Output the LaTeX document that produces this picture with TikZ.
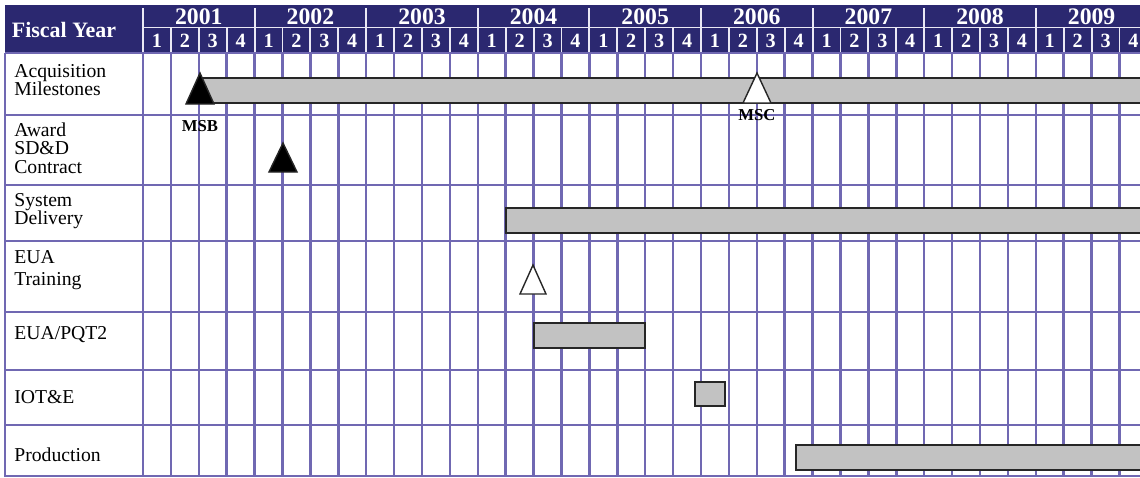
\documentclass[tikz,border=0pt]{standalone}
\usepackage{fontspec}
\setmainfont{Liberation Serif}
\definecolor{FYnavy}{HTML}{2B2870}
\definecolor{FYgrid}{HTML}{7068B2}
\definecolor{FYbar}{HTML}{C2C2C2}
\usetikzlibrary{positioning}

\begin{document}
\begin{tikzpicture}[x=0.02cm, y=-0.02cm,
   gridline/.style={FYgrid, line width=1.4pt},
   hdrline/.style={white!85!FYgrid, line width=1.1pt},
   taskbar/.style={fill=FYbar, draw=black!85, line width=0.8pt},
   mstone/.style={draw=black!85, line width=0.8pt, line join=miter},
   rowlabel/.style={anchor=west, align=left, inner sep=0pt,
      font=\fontsize{11.2}{10.5}\selectfont},
   hdrtext/.style={white, inner sep=0pt, font=\bfseries\fontsize{12.5}{14}\selectfont},
   yrtext/.style={white, inner sep=0pt, font=\bfseries\fontsize{13.5}{14}\selectfont},
   qtext/.style={white, inner sep=0pt, font=\bfseries\fontsize{11.5}{12}\selectfont},
   mlabel/.style={inner sep=0pt, font=\bfseries\fontsize{9.5}{10}\selectfont}]
   \def\qw{27.9}
   \useasboundingbox (0,0) rectangle (1140,477);
   \clip (0,0) rectangle (1140,477);
   % Header band
   \fill[FYnavy] (5,5) rectangle (1150,53);
   \node[hdrtext] (fiscal) at (64,30) {Fiscal Year};
   \draw[hdrline] (143,27.5) -- (1150,27.5);
   \foreach \k in {0,...,9}
      \draw[hdrline] ({143+4*\k*\qw},8) -- ({143+4*\k*\qw},53);
   \foreach \k in {1,...,36}
      \draw[hdrline] ({143+\k*\qw},28) -- ({143+\k*\qw},53);
   % Years and quarters
   \foreach \yr [count=\i from 0] in {2001,...,2009}
      \node[yrtext] (yr\yr) at ({143+(4*\i+2)*\qw},17) {\yr};
   \foreach \k in {0,...,35}{
      \pgfmathtruncatemacro{\q}{mod(\k,4)+1}
      \node[qtext] (q\k) at ({143+(\k+0.5)*\qw},41) {\q};
   }
   % Body grid
   \draw[gridline] (5,53) -- (5,477);
   \foreach \k in {0,...,36}
      \draw[gridline] ({143+\k*\qw},53) -- ({143+\k*\qw},477);
   \foreach \r in {53,115,185,241,312,370,425,476}
      \draw[gridline] (5,\r) -- (1150,\r);
   % Row labels
   \node[rowlabel] (acq) at (14,80) {Acquisition\\Milestones};
   \node[rowlabel] (award) at (14,148) {Award\\SD\&D\\Contract};
   \node[rowlabel] (sysdel) at (14,211) {System\\Delivery};
   \node[rowlabel] (euatr) at (14,270) {EUA\\[2pt]Training};
   \node[rowlabel] (pqt) at (14,335) {EUA/PQT2};
   \node[rowlabel] (iote) at (14,397) {IOT\&E};
   \node[rowlabel] (prod) at (14,455) {Production};
   % Bars
   \draw[taskbar] (200,78) rectangle (1150,103);
   \draw[taskbar] (506,208) rectangle (1150,233);
   \draw[taskbar] (534,323) rectangle (645,348);
   \draw[taskbar] (695,382) rectangle (725,406);
   \draw[taskbar] (796,445) rectangle (1150,470);
   % Milestones
   \filldraw[mstone, fill=black] (200,73) -- (214,104) -- (186,104) -- cycle;
   \node[mlabel] (msb) at (200,126) {MSB};
   \filldraw[mstone, fill=white] (757,73) -- (771,103) -- (743,103) -- cycle;
   \node[mlabel] (msc) at (757,115) {MSC};
   \filldraw[mstone, fill=black] (283,143) -- (297,172) -- (269,172) -- cycle;
   \filldraw[mstone, fill=white] (533,265) -- (546,294) -- (520,294) -- cycle;
\end{tikzpicture}
\end{document}
